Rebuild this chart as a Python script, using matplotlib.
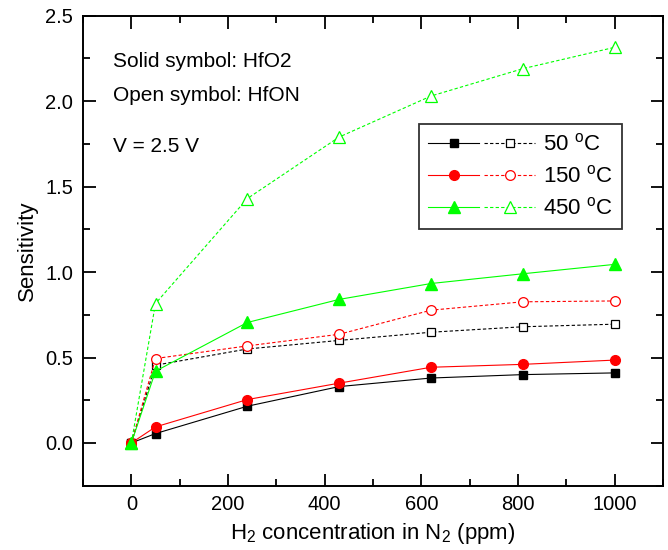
import matplotlib
matplotlib.use("Agg")
import matplotlib.pyplot as plt
from matplotlib.lines import Line2D
from matplotlib.legend_handler import HandlerTuple
from matplotlib.ticker import MultipleLocator

plt.rcParams['font.family'] = ['Liberation Sans', 'DejaVu Sans']
plt.rcParams['mathtext.default'] = 'regular'

# H2 concentration (ppm)
conc = [0, 50, 240, 430, 620, 810, 1000]

# HfO2 (solid symbols)
hfo2_50 = [0.0, 0.055, 0.215, 0.33, 0.38, 0.40, 0.41]
hfo2_150 = [0.0, 0.094, 0.254, 0.35, 0.443, 0.46, 0.485]
hfo2_450 = [0.0, 0.42, 0.705, 0.84, 0.933, 0.99, 1.045]

# HfON (open symbols)
hfon_50 = [0.0, 0.455, 0.55, 0.60, 0.648, 0.68, 0.695]
hfon_150 = [0.0, 0.494, 0.568, 0.636, 0.777, 0.826, 0.831]
hfon_450 = [0.0, 0.816, 1.43, 1.79, 2.03, 2.19, 2.315]

temps = ['50', '150', '450']
colors = ['black', '#ff0000', '#00ff00']
markers = ['s', 'o', '^']
msizes = [6, 7, 8]

fig = plt.figure(figsize=(6.68, 5.5), dpi=100)
ax = fig.add_axes([83 / 668, 1 - 485.7 / 550, 580 / 668, 470 / 550])

dash = (3, 2)
lw = 0.8
handles = []
labels = []
for solid, opened, c, m, ms, t in zip(
        [hfo2_50, hfo2_150, hfo2_450],
        [hfon_50, hfon_150, hfon_450],
        colors, markers, msizes, temps):
    ax.plot(conc, opened, color=c, lw=lw, ls=(0, dash), marker=m, ms=ms,
            mfc='white', mec=c, mew=0.9, zorder=2)
    ax.plot(conc, solid, color=c, lw=lw, ls='-', marker=m, ms=ms,
            mfc=c, mec=c, zorder=3)
    h_solid = Line2D([], [], color=c, lw=lw, ls='-', marker=m, ms=ms,
                     mfc=c, mec=c)
    h_open = Line2D([], [], color=c, lw=lw, ls=(0, dash), marker=m, ms=ms,
                    mfc='white', mec=c, mew=0.9)
    handles.append((h_solid, h_open))
    labels.append(f'{t} $^o$C')

ax.set_xlim(-100, 1100)
ax.set_ylim(-0.25, 2.5)
ax.xaxis.set_major_locator(MultipleLocator(200))
ax.xaxis.set_minor_locator(MultipleLocator(100))
ax.yaxis.set_major_locator(MultipleLocator(0.5))
ax.yaxis.set_minor_locator(MultipleLocator(0.25))
ax.set_yticks([0.0, 0.5, 1.0, 1.5, 2.0, 2.5])
ax.set_yticklabels(['0.0', '0.5', '1.0', '1.5', '2.0', '2.5'])

ax.tick_params(which='both', direction='in', top=True, right=True,
               width=1.3, labelsize=14.5, pad=7)
ax.tick_params(which='major', length=9)
ax.tick_params(which='minor', length=5)
for sp in ax.spines.values():
    sp.set_linewidth(1.4)

ax.set_xlabel('H$_2$ concentration in N$_2$ (ppm)', fontsize=16, labelpad=5)
ax.set_ylabel('Sensitivity', fontsize=16, labelpad=5)

txt_kw = dict(transform=ax.transAxes, fontsize=15, va='center', ha='left')
ax.text(0.052, 0.902, 'Solid symbol: HfO2', **txt_kw)
ax.text(0.052, 0.831, 'Open symbol: HfON', **txt_kw)
ax.text(0.052, 0.7226, 'V = 2.5 V', **txt_kw)

leg = ax.legend(handles, labels,
                handler_map={tuple: HandlerTuple(ndivide=None, pad=0.25)},
                loc='upper right', bbox_to_anchor=(622 / 668, 1 - 124 / 550),
                bbox_transform=fig.transFigure, borderaxespad=0,
                fontsize=16, handlelength=4.8, handletextpad=0.35,
                labelspacing=0.45, borderpad=0.42, fancybox=False,
                framealpha=1, edgecolor='#333333')
leg.get_frame().set_linewidth(1.3)

fig.savefig('out.png', dpi=100)
